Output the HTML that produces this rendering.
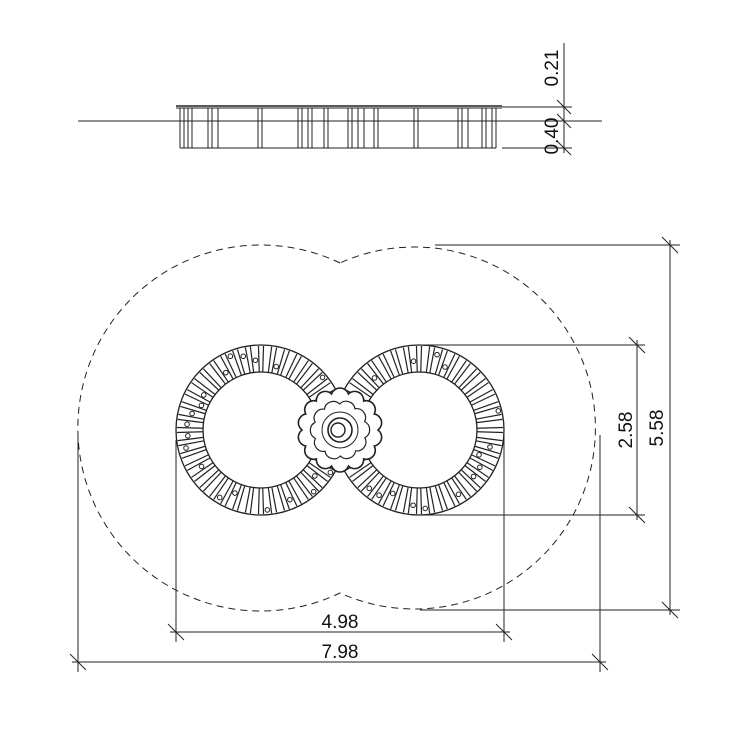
<!DOCTYPE html>
<html><head><meta charset="utf-8"><style>
html,body{margin:0;padding:0;background:#fff;}
svg{display:block;}
text{font-family:"Liberation Sans",sans-serif;font-size:19px;fill:#111;}
</style></head><body>
<svg id="s" width="735" height="735" viewBox="0 0 735 735" xmlns="http://www.w3.org/2000/svg">
<g stroke="#222" stroke-width="1" fill="none">
<line x1="78" y1="121" x2="602" y2="121"/>
<line x1="176" y1="106" x2="502" y2="106" stroke-width="1.4"/>
<line x1="176" y1="108" x2="502" y2="108"/>
<line x1="180" y1="148" x2="496" y2="148"/>
<g id="elev"></g>
<line x1="502" y1="107" x2="572" y2="107"/>
<line x1="502" y1="148" x2="572" y2="148"/>
<line x1="564" y1="43" x2="564" y2="153"/>
<line x1="557" y1="100" x2="571" y2="114"/>
<line x1="557" y1="114" x2="571" y2="128"/>
<line x1="557" y1="141" x2="571" y2="155"/>
<path d="M340,263 A183,183 0 1 0 340,593 A181,181 0 1 0 340,263" stroke-dasharray="7,5"/>
<line x1="435" y1="245" x2="680" y2="245"/>
<line x1="420" y1="610" x2="680" y2="610"/>
<line x1="670" y1="240" x2="670" y2="615"/>
<line x1="662" y1="237" x2="678" y2="253"/>
<line x1="662" y1="602" x2="678" y2="618"/>
<line x1="420" y1="345" x2="645" y2="345"/>
<line x1="420" y1="515" x2="645" y2="515"/>
<line x1="637" y1="340" x2="637" y2="520"/>
<line x1="629" y1="337" x2="645" y2="353"/>
<line x1="629" y1="507" x2="645" y2="523"/>
<line x1="176" y1="440" x2="176" y2="642"/>
<line x1="504" y1="435" x2="504" y2="642"/>
<line x1="170" y1="632" x2="510" y2="632"/>
<line x1="168" y1="624" x2="184" y2="640"/>
<line x1="496" y1="624" x2="512" y2="640"/>
<line x1="78" y1="435" x2="78" y2="672"/>
<line x1="600" y1="435" x2="600" y2="672"/>
<line x1="72" y1="662" x2="606" y2="662"/>
<line x1="70" y1="654" x2="86" y2="670"/>
<line x1="592" y1="654" x2="608" y2="670"/>
<g id="rings"></g>
</g>
<text x="340" y="628" text-anchor="middle">4.98</text>
<text x="340" y="658" text-anchor="middle">7.98</text>
<text transform="translate(632,430) rotate(-90)" text-anchor="middle">2.58</text>
<text transform="translate(663,428) rotate(-90)" text-anchor="middle">5.58</text>
<text transform="translate(558,68) rotate(-90)" text-anchor="middle">0.21</text>
<text transform="translate(558,136) rotate(-90)" text-anchor="middle">0.40</text>
</svg>
<script>
var NS="http://www.w3.org/2000/svg";
function el(p,t,a){var e=document.createElementNS(NS,t);for(var k in a)e.setAttribute(k,a[k]);p.appendChild(e);return e;}
var ev=document.getElementById("elev");
var xs=[180,184,188,192,208,212,218,258,262,298,302,308,312,324,328,348,352,358,364,374,378,414,418,458,462,468,482,486,492,496];
xs.forEach(function(x){el(ev,"line",{x1:x,y1:108,x2:x,y2:148});});
var r=document.getElementById("rings");
var seed=3;function rnd(){seed=(seed*9301+49297)%233280;return seed/233280;}
[[261,430],[419,430]].forEach(function(c){
  var cx=c[0],cy=c[1],R=85,ri=58;
  el(r,"circle",{cx:cx,cy:cy,r:R,"stroke-width":"1.3"});
  el(r,"circle",{cx:cx,cy:cy,r:ri,"stroke-width":"1.3"});
  var n=40;
  for(var i=0;i<n;i++){
    var a=i/n*2*Math.PI;
    [-0.03,0.03].forEach(function(d){
      var b=a+d;
      el(r,"line",{x1:cx+ri*Math.cos(b),y1:cy+ri*Math.sin(b),x2:cx+(R-1)*Math.cos(b),y2:cy+(R-1)*Math.sin(b),"stroke-width":"1.2"});
    });
    if(rnd()<0.6){var rr=ri+6+rnd()*18,bb=a+0.078;
      el(r,"circle",{cx:cx+rr*Math.cos(bb),cy:cy+rr*Math.sin(bb),r:2.3});}
  }
});
var fx=340,fy=430;
el(r,"circle",{cx:fx,cy:fy,r:36,fill:"#fff",stroke:"none"});
var d="",N=14;
for(var i=0;i<N;i++){var a=i/N*2*Math.PI,a2=(i+1)/N*2*Math.PI;
 var x1=fx+38*Math.cos(a),y1=fy+37*Math.sin(a),x2=fx+38*Math.cos(a2),y2=fy+37*Math.sin(a2);
 d+=(i==0?"M"+x1+","+y1:"")+" A9,9 0 0 1 "+x2+","+y2;}
el(r,"path",{d:d+"Z",fill:"#fff","stroke-width":"1.6"});
var d2="";
for(var i=0;i<10;i++){var a=i/10*2*Math.PI+0.3,a2=(i+1)/10*2*Math.PI+0.3;
 var x1=fx+26*Math.cos(a),y1=fy+26*Math.sin(a),x2=fx+26*Math.cos(a2),y2=fy+26*Math.sin(a2);
 d2+=(i==0?"M"+x1+","+y1:"")+" A9,9 0 0 1 "+x2+","+y2;}
el(r,"path",{d:d2+"Z","stroke-width":"1.2"});
el(r,"circle",{cx:fx,cy:fy,r:18});
el(r,"circle",{cx:fx,cy:fy,r:12,"stroke-width":"1.6"});
el(r,"circle",{cx:fx-2,cy:fy,r:7,"stroke-width":"1.4"});
</script>
</body></html>
